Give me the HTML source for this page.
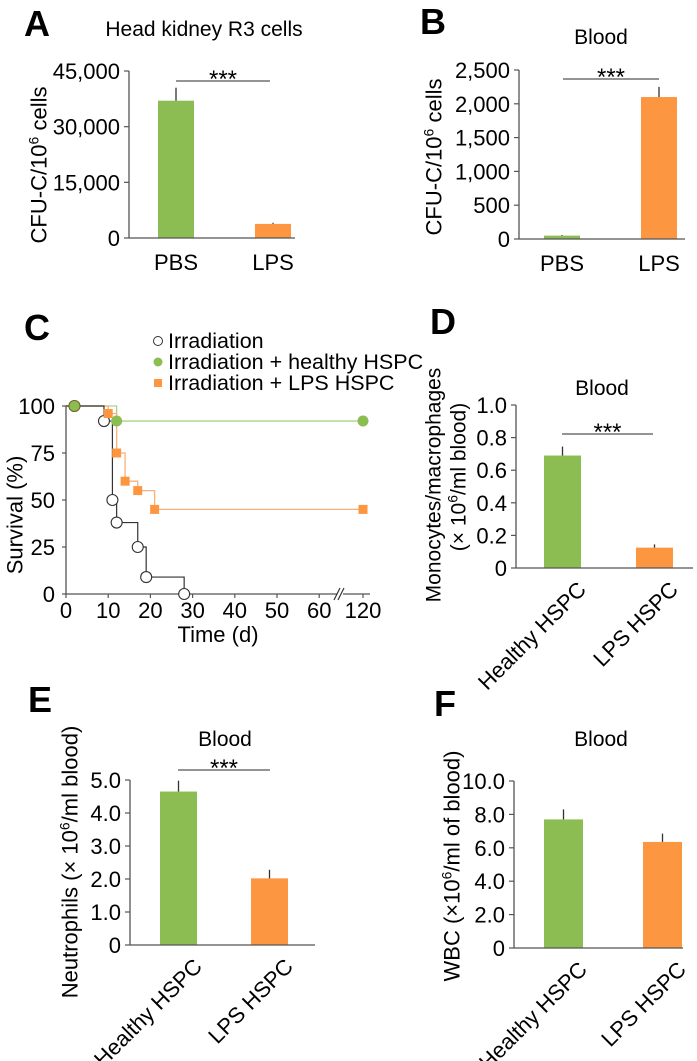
<!DOCTYPE html>
<html><head><meta charset="utf-8"><style>
html,body{margin:0;padding:0;background:#fff;}
svg{display:block;font-family:"Liberation Sans",Arial,sans-serif;}
</style></head><body>
<svg id="fig" width="697" height="1061" viewBox="0 0 697 1061" xmlns="http://www.w3.org/2000/svg"></svg>
<script>
// ---- Panel A data ----
const aCats = ["PBS", "LPS"];
const aValues = [37000, 3800];
const aErrors = [3500, 300];
const aTicks = [0, 15000, 30000, 45000];
const aTickLabels = ["0", "15,000", "30,000", "45,000"];
// ---- Panel B data ----
const bCats = ["PBS", "LPS"];
const bValues = [50, 2100];
const bErrors = [10, 150];
const bTicks = [0, 500, 1000, 1500, 2000, 2500];
const bTickLabels = ["0", "500", "1,000", "1,500", "2,000", "2,500"];
// ---- Panel C data ----
const cIrrTimes = [2, 9, 11, 12, 17, 19, 28];
const cIrrSurv = [100, 92, 50, 38, 25, 9, 0];
const cHealthyTimes = [2, 12, 120];
const cHealthySurv = [100, 92, 92];
const cLpsTimes = [2, 10, 12, 14, 17, 21, 120];
const cLpsSurv = [100, 96, 75, 60, 55, 45, 45];
const cXTicks = [0, 10, 20, 30, 40, 50, 60, 120];
const cYTicks = [0, 25, 50, 75, 100];
// ---- Panel D data ----
const dCats = ["Healthy HSPC", "LPS HSPC"];
const dValues = [0.69, 0.125];
const dErrors = [0.055, 0.02];
const dTicks = [0, 0.2, 0.4, 0.6, 0.8, 1.0];
const dTickLabels = ["0", "0.2", "0.4", "0.6", "0.8", "1.0"];
// ---- Panel E data ----
const eCats = ["Healthy HSPC", "LPS HSPC"];
const eValues = [4.65, 2.02];
const eErrors = [0.33, 0.26];
const eTicks = [0, 1, 2, 3, 4, 5];
const eTickLabels = ["0", "1.0", "2.0", "3.0", "4.0", "5.0"];
// ---- Panel F data ----
const fCats = ["Healthy HSPC", "LPS HSPC"];
const fValues = [7.7, 6.35];
const fErrors = [0.6, 0.5];
const fTicks = [0, 2, 4, 6, 8, 10];
const fTickLabels = ["0", "2.0", "4.0", "6.0", "8.0", "10.0"];

const NS = "http://www.w3.org/2000/svg";
const svg = document.getElementById("fig");
const GREEN = "#8cbd52", ORANGE = "#fd9640", AX = "#555";
const barColors = [GREEN, ORANGE];
const FS = "22";

function mk(tag, attrs, parent) {
  const e = document.createElementNS(NS, tag);
  for (const k in attrs) e.setAttribute(k, attrs[k]);
  (parent || svg).appendChild(e);
  return e;
}
function txt(s, attrs, parent) {
  const e = mk("text", attrs, parent);
  e.textContent = s;
  return e;
}
function supLabel(parent, before, after, attrs) {
  const t = mk("text", attrs, parent);
  const a = mk("tspan", {}, t); a.textContent = before;
  const b = mk("tspan", {dy: "-8", "font-size": "14"}, t); b.textContent = "6";
  const c = mk("tspan", {dy: "8"}, t); c.textContent = after;
  return t;
}

function barChart(o) {
  const g = mk("g", {});
  
  
  const y = v => o.y0 - (v / o.max) * (o.y0 - o.yTop);
  const L = txt(o.letter, {x: o.lx, y: o.ly, "font-size": "36", "font-weight": "bold"}, g);
  
  
  const T = txt(o.title, {x: o.tx, y: o.ty, "font-size": "21", "text-anchor": "middle"}, g);
  
  
  o.values.forEach((v, i) => {
    const x1 = o.barX[i];
    const r = mk("rect", {x: x1, y: y(v), width: o.bw, height: o.y0 - y(v), fill: barColors[i]}, g);
    
    
    const eb = mk("line", {x1: x1 + o.bw / 2, x2: x1 + o.bw / 2, y1: y(v), y2: y(v + o.errors[i]), stroke: "#333", "stroke-width": "1.3"}, g);
    
    
    let lab;
    if (o.rot) {
      const ax = x1 + o.bw / 2 + 14, ay = o.y0 + 12;
      lab = txt(o.cats[i], {x: ax, y: ay, "font-size": FS, "text-anchor": "end", transform: `rotate(-45 ${ax} ${ay})`, dy: "0.7em"}, g);
    } else {
      lab = txt(o.cats[i], {x: x1 + o.bw / 2, y: o.y0 + 32, "font-size": FS, "text-anchor": "middle"}, g);
    }
    
    
  });
  const ya = mk("line", {x1: o.ax, x2: o.ax, y1: o.yTop, y2: o.y0, stroke: AX, "stroke-width": "1.3"}, g);
  
  
  const xa = mk("line", {x1: o.ax, x2: o.axEnd, y1: o.y0, y2: o.y0, stroke: AX, "stroke-width": "1.3"}, g);
  
  
  o.ticks.forEach((t, i) => {
    const tk = mk("line", {x1: o.ax - 5, x2: o.ax, y1: y(t), y2: y(t), stroke: AX, "stroke-width": "1.2"}, g);
    
    
    const tl = txt(o.tickLabels[i], {x: o.ax - 9, y: y(t) + 8, "font-size": FS, "text-anchor": "end"}, g);
    
    
  });
  if (o.sig) {
    const sl = mk("line", {x1: o.sig[0], x2: o.sig[1], y1: o.sig[2], y2: o.sig[2], stroke: "#555", "stroke-width": "1.2"}, g);
    
    
    const st = txt("***", {x: (o.sig[0] + o.sig[1]) / 2, y: o.sig[2] + 6, "font-size": "24", "text-anchor": "middle"}, g);
    
    
  }
  return {g, y};
}

const A = barChart({name: "panel-a", letter: "A", lx: 24, ly: 36, title: "Head kidney R3 cells", tx: 204, ty: 36,
  cats: aCats, values: aValues, errors: aErrors, ticks: aTicks, tickLabels: aTickLabels, max: 45000,
  ax: 129, axEnd: 295, y0: 238, yTop: 71, barX: [158, 255], bw: 36, sig: [176, 270, 81]});
const aY = supLabel(A.g, "CFU-C/10", " cells", {x: 0, y: 0, "font-size": FS, "text-anchor": "middle", transform: "translate(39 165) rotate(-90)", dy: "0.35em"});



const B = barChart({name: "panel-b", letter: "B", lx: 420, ly: 34, title: "Blood", tx: 601, ty: 44,
  cats: bCats, values: bValues, errors: bErrors, ticks: bTicks, tickLabels: bTickLabels, max: 2500,
  ax: 519, axEnd: 685, y0: 239, yTop: 70, barX: [544, 641], bw: 36, sig: [563, 659, 79]});
const bY = supLabel(B.g, "CFU-C/10", " cells", {x: 0, y: 0, "font-size": FS, "text-anchor": "middle", transform: "translate(434 157) rotate(-90)", dy: "0.35em"});



const D = barChart({name: "panel-d", letter: "D", lx: 430, ly: 334, title: "Blood", tx: 602, ty: 395,
  cats: dCats, values: dValues, errors: dErrors, ticks: dTicks, tickLabels: dTickLabels, max: 1.0,
  ax: 516, axEnd: 693, y0: 568, yTop: 405, barX: [544, 636], bw: 37, sig: [562, 653, 434], rot: true});
const dY1 = txt("Monocytes/macrophages", {x: 0, y: 0, "font-size": "21", "text-anchor": "middle", transform: "translate(433 485) rotate(-90)", dy: "0.35em"}, D.g);


const dY2 = supLabel(D.g, "(× 10", "/ml blood)", {x: 0, y: 0, "font-size": "21", "text-anchor": "middle", transform: "translate(458 477) rotate(-90)", dy: "0.35em"});



const E = barChart({name: "panel-e", letter: "E", lx: 28, ly: 712, title: "Blood", tx: 225, ty: 746,
  cats: eCats, values: eValues, errors: eErrors, ticks: eTicks, tickLabels: eTickLabels, max: 5,
  ax: 130, axEnd: 315, y0: 945, yTop: 780, barX: [160, 251], bw: 37, sig: [178, 270, 770], rot: true});
const eY = supLabel(E.g, "Neutrophils (× 10", "/ml blood)", {x: 0, y: 0, "font-size": FS, "text-anchor": "middle", transform: "translate(70 862) rotate(-90)", dy: "0.35em"});



const F = barChart({name: "panel-f", letter: "F", lx: 434, ly: 716, title: "Blood", tx: 601, ty: 746,
  cats: fCats, values: fValues, errors: fErrors, ticks: fTicks, tickLabels: fTickLabels, max: 10,
  ax: 514, axEnd: 683, y0: 948, yTop: 781, barX: [544, 643], bw: 39, rot: true});
const fY = supLabel(F.g, "WBC (×10", "/ml of blood)", {x: 0, y: 0, "font-size": FS, "text-anchor": "middle", transform: "translate(452 866) rotate(-90)", dy: "0.35em"});



// Panel C
const gc = mk("g", {});


const cx0 = 66, cy0 = 594, cyTop = 406;
const cxs = t => t <= 60 ? cx0 + t * 4.22 : 363 + (t - 120) * 4.22;
const cys = v => cy0 - v / 100 * (cy0 - cyTop);
const cL = txt("C", {x: 24, y: 340, "font-size": "36", "font-weight": "bold"}, gc);


const cya = mk("line", {x1: cx0, x2: cx0, y1: cyTop, y2: cy0, stroke: AX, "stroke-width": "1.3"}, gc);


const cxa1 = mk("line", {x1: cx0, x2: 337, y1: cy0, y2: cy0, stroke: AX, "stroke-width": "1.3"}, gc);


const cxa2 = mk("line", {x1: 343, x2: 370, y1: cy0, y2: cy0, stroke: AX, "stroke-width": "1.3"}, gc);


const brk = mk("path", {d: "M334 600 L340 588 M338 600 L344 588", stroke: "#333", "stroke-width": "1.2", fill: "none"}, gc);


cXTicks.forEach(t => {
  const tk = mk("line", {x1: cxs(t), x2: cxs(t), y1: cy0, y2: cy0 + 4, stroke: AX, "stroke-width": "1.2"}, gc);
  
  
  const tl = txt(String(t), {x: cxs(t), y: cy0 + 24, "font-size": FS, "text-anchor": "middle"}, gc);
  
  
});
cYTicks.forEach(t => {
  const tk = mk("line", {x1: cx0 - 4, x2: cx0, y1: cys(t), y2: cys(t), stroke: AX, "stroke-width": "1.2"}, gc);
  
  
  const tl = txt(String(t), {x: 55, y: cys(t) + 8, "font-size": FS, "text-anchor": "end"}, gc);
  
  
});
const cXT = txt("Time (d)", {x: 218, y: 642, "font-size": FS, "text-anchor": "middle"}, gc);


const cYT = txt("Survival (%)", {x: 0, y: 0, "font-size": FS, "text-anchor": "middle", transform: "translate(15 515) rotate(-90)", dy: "0.35em"}, gc);



function kmLine(times, surv, color, name, width) {
  let d = `M${cx0} ${cys(100)}`, prev = 100;
  times.forEach((t, i) => {
    d += ` L${cxs(t)} ${cys(prev)} L${cxs(t)} ${cys(surv[i])}`;
    prev = surv[i];
  });
  const p = mk("path", {d, stroke: color, "stroke-width": width, fill: "none"}, gc);
  
  
}
kmLine(cHealthyTimes, cHealthySurv, "#a9d38a", "healthy-hspc", 1.3);
kmLine(cLpsTimes, cLpsSurv, "#f9b07a", "lps-hspc", 1.3);
kmLine(cIrrTimes, cIrrSurv, "#333", "irradiation", 1.2);
cIrrTimes.forEach((t, i) => {
  const m = mk("circle", {cx: cxs(t), cy: cys(cIrrSurv[i]), r: 5.5, fill: "#fff", stroke: "#333", "stroke-width": "1.1"}, gc);
  
  
});
cLpsTimes.forEach((t, i) => {
  const m = mk("rect", {x: cxs(t) - 4.5, y: cys(cLpsSurv[i]) - 4.5, width: 9, height: 9, fill: ORANGE}, gc);
  
  
});
cHealthyTimes.forEach((t, i) => {
  const m = mk("circle", {cx: cxs(t), cy: cys(cHealthySurv[i]), r: 5.5, fill: GREEN, stroke: i === 0 ? "#7a6a2a" : "none", "stroke-width": "1"}, gc);
  
  
});
const lg = mk("g", {}, gc);


const l1 = mk("circle", {cx: 158, cy: 341, r: 4.5, fill: "#fff", stroke: "#333", "stroke-width": "1"}, lg);


const l1t = txt("Irradiation", {x: 168, y: 348, "font-size": "21.5"}, lg);


const l2 = mk("circle", {cx: 158, cy: 362, r: 4.5, fill: GREEN}, lg);


const l2t = txt("Irradiation + healthy HSPC", {x: 168, y: 369, "font-size": "21.5"}, lg);


const l3 = mk("rect", {x: 154, y: 379, width: 8, height: 8, fill: ORANGE}, lg);


const l3t = txt("Irradiation + LPS HSPC", {x: 168, y: 390, "font-size": "21.5"}, lg);


</script>
</body></html>
